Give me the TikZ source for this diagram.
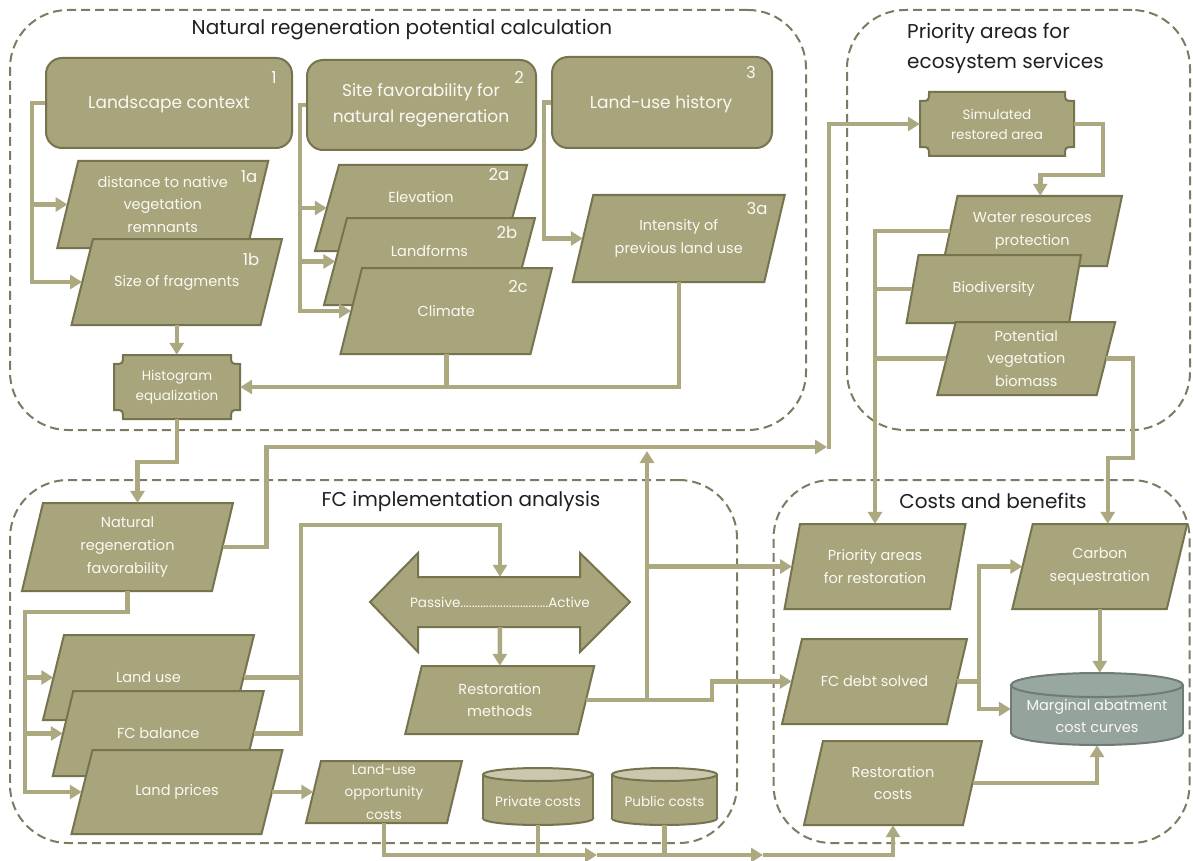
\documentclass[tikz,border=0pt]{standalone}
\usepackage{fontspec}
\setmainfont{Poppins}
\usetikzlibrary{arrows.meta,calc}
\definecolor{olive}{HTML}{A8A47B}
\definecolor{olivedark}{HTML}{76734F}
\definecolor{conncol}{HTML}{ACA980}
\definecolor{grpcol}{HTML}{7E7B62}
\definecolor{cyltopcol}{HTML}{C9C8AE}
\definecolor{macfill}{HTML}{94A39B}
\definecolor{macdark}{HTML}{6E7C74}
\definecolor{mactop}{HTML}{98A79F}
\definecolor{titlecol}{HTML}{231F20}
\definecolor{txtcol}{HTML}{FAFAF4}
\tikzset{
  shp/.style={fill=olive, draw=olivedark, line width=2, line join=miter},
  txt/.style={text=txtcol, inner sep=0, align=center, font=\fontsize{14.5}{22.5}\selectfont},
  bigtxt/.style={txt, font=\fontsize{17}{26}\selectfont},
  smalltxt/.style={txt, font=\fontsize{13.5}{22}\selectfont},
  num/.style={text=txtcol, inner sep=0, font=\fontsize{16.5}{20}\selectfont},
  rbox/.style={shp, rounded corners=16, inner sep=0},
  grp/.style={draw=grpcol, line width=2, dash pattern=on 9pt off 5pt, rounded corners=58, inner sep=0},
  ttl/.style={text=titlecol, inner sep=0, font=\fontsize{20}{30}\selectfont},
  conn/.style={draw=conncol, line width=4.5},
  arr/.style={conn, -{Triangle[length=12pt,width=14pt]}},
  cylb/.style={fill=olive, draw=olivedark, line width=2},
  cylt/.style={fill=cyltopcol, draw=olivedark, line width=2},
}
% parallelogram: name, cx, cy, w (edge length), h, slant, text
\newcommand\pgram[7]{%
  \filldraw[shp] (#2-#4/2+#6/2, #3-#5/2) -- (#2+#4/2+#6/2, #3-#5/2) -- (#2+#4/2-#6/2, #3+#5/2) -- (#2-#4/2-#6/2, #3+#5/2) -- cycle;
  \node[txt, minimum width=#4, minimum height=#5] (#1) at (#2,#3) {#7};
}
% plaque: name, x1, y1, x2, y2, text
\newcommand\plaque[6]{%
  \filldraw[shp] (#2+9,#3) -- (#4-9,#3) .. controls (#4-9,#3+9) .. (#4,#3+9) -- (#4,#5-9) .. controls (#4-9,#5-9) .. (#4-9,#5) -- (#2+9,#5) .. controls (#2+9,#5-9) .. (#2,#5-9) -- (#2,#3+9) .. controls (#2+9,#3+9) .. (#2+9,#3) -- cycle;
  \node[txt, font=\fontsize{13.5}{20}\selectfont, minimum width=#4-#2, minimum height=#5-#3] (#1) at ({(#2+#4)/2},{(#3+#5)/2}) {#6};
}
% cylinder: name, cx, ytop, ybot, w, text-y, text ; uses \cry
\newcommand\cyl[7]{%
  \filldraw[cylb] (#2,#4-\cry) ellipse [x radius=#5/2, y radius=\cry];
  \fill[cylb, draw=none] (#2-#5/2,#3+\cry) rectangle (#2+#5/2,#4-\cry);
  \draw[cylb, fill=none] (#2-#5/2,#3+\cry) -- (#2-#5/2,#4-\cry) (#2+#5/2,#3+\cry) -- (#2+#5/2,#4-\cry);
  \filldraw[cylt] (#2,#3+\cry) ellipse [x radius=#5/2, y radius=\cry];
  \node[inner sep=0, minimum width=#5, minimum height=#4-#3] (#1) at (#2,{(#3+#4)/2}) {};
  \node[smalltxt] (#1-t) at (#2,#6) {#7};
}
\begin{document}
\begin{tikzpicture}[x=1pt, y=-1pt]
\fill[white] (0,0) rectangle (1193,861);
\useasboundingbox (0,0) rectangle (1193,861);

% groups
\node[grp, minimum width=796, minimum height=420] (g1) at (408,220) {};
\node[grp, minimum width=343, minimum height=420] (g2) at (1018.5,220) {};
\node[grp, minimum width=727, minimum height=363] (g3) at (373.5,661.5) {};
\node[grp, minimum width=416, minimum height=363] (g4) at (981.5,661.5) {};
\node[ttl] (t1) at (402,30) {Natural regeneration potential calculation};
\node[ttl, align=left, anchor=west] (t2) at (907,48) {Priority areas for\\ecosystem services};
\node[ttl] (t3) at (461,501) {FC implementation analysis};
\node[ttl] (t4) at (993,501) {Costs and benefits};

% top rounded boxes
\node[rbox, minimum width=246, minimum height=90] (lc) at (169,103) {};
\node[bigtxt] (lc-t) at (169,104) {Landscape context};
\node[num] (n1) at (274,78) {1};
\node[rbox, minimum width=229, minimum height=90] (sf) at (421.5,105) {};
\node[bigtxt] (sf-t) at (421,105) {Site favorability for\\natural regeneration};
\node[num] (n2) at (519,77) {2};
\node[rbox, minimum width=220, minimum height=91] (luh) at (662,102.5) {};
\node[bigtxt] (luh-t) at (661,104) {Land-use history};
\node[num] (n3) at (751,72) {3};

% parallelograms top
\pgram{e1a}{162.75}{204.5}{190}{87}{21}{distance to native\\vegetation\\remnants}
\node[num] (n1a) at (249,177) {1a};
\pgram{e1b}{176.75}{282}{189}{86}{21.5}{}
\node[txt] (e1b-t) at (176.75,283) {Size of fragments};
\node[num] (n1b) at (251,259) {1b};
\pgram{e2a}{421}{208}{188}{86}{24}{Elevation\\[0pt]}
\node[num] (n2a) at (499,175) {2a};
\pgram{e2b}{429.5}{261.5}{188}{87}{23}{Landforms\\[-2pt]}
\node[num] (n2b) at (507,232) {2b};
\pgram{e2c}{446.25}{311}{190}{86}{21.5}{Climate}
\node[num] (n2c) at (518,287) {2c};
\pgram{e3a}{678.75}{238.5}{191.5}{87}{20.5}{Intensity of\\previous land use}
\node[num] (n3a) at (757,208) {3a};

\plaque{hist}{114}{355}{240}{419}{Histogram\\equalization}

% priority areas
\plaque{sim}{920}{92}{1074}{156}{Simulated\\restored area}
\pgram{wr}{1032.25}{231}{164.5}{70}{15}{Water resources\\protection}
\pgram{bio}{993.75}{289}{162.5}{68}{12}{Biodiversity}
\pgram{pvb}{1026.25}{358.5}{159.5}{73}{18.5}{Potential\\vegetation\\biomass}

% FC implementation
\pgram{nrf}{127.5}{547}{190}{88}{21}{Natural\\regeneration\\favorability}
\pgram{lu}{148.5}{677.5}{190}{85}{21}{Land use}
\pgram{fcb}{158.25}{733.5}{190.5}{85}{20.5}{FC balance}
\pgram{lp}{177}{792}{190}{84}{21}{Land prices}
\pgram{opp}{384}{792}{141}{62}{15}{\fontsize{13.5}{22}\selectfont Land-use\\\fontsize{13.5}{22}\selectfont opportunity\\\fontsize{13.5}{22}\selectfont costs}
\filldraw[shp] (370,602) -- (418,553) -- (418,577) -- (580,577) -- (580,553) -- (630,602) -- (580,652) -- (580,627) -- (418,627) -- (418,652) -- cycle;
\node[txt, font=\fontsize{13.5}{20}\selectfont, minimum width=260, minimum height=50] (darr) at (500,602) {Passive...............................Active};
\pgram{rm}{499.75}{700}{172.5}{68}{16.5}{Restoration\\methods}
\def\cry{6.5}
\cyl{priv}{538}{768}{825}{110}{801}{Private costs}
\cyl{pub}{664.5}{768}{825}{105}{801}{Public costs}

% costs and benefits
\pgram{pr}{875}{566.5}{165.5}{85}{15.5}{Priority areas\\for restoration}
\pgram{fcd}{874.5}{681.5}{165}{85}{20}{FC debt solved}
\pgram{cs}{1099.75}{566.5}{154.5}{85}{20.5}{Carbon\\sequestration}
\pgram{rc}{893}{783}{159}{84}{19}{Restoration\\costs}
\begin{scope}[cylb/.style={fill=macfill, draw=macdark, line width=2}, cylt/.style={fill=mactop, draw=macdark, line width=2}, smalltxt/.style={txt, font=\fontsize{14.5}{22}\selectfont}]
\def\cry{12}
\cyl{mac}{1097}{673}{745}{172}{716}{Marginal abatment\\cost curves}
\end{scope}

% connectors: natural regeneration
\draw[arr] (lc.west) -- ++(-13,0) |- (e1a.west);
\draw[arr] (lc.west) -- ++(-13,0) |- (e1b.west);
\draw[arr] (sf.west) -- ++(-6,0) |- (e2a.west);
\draw[arr] (sf.west) -- ++(-6,0) |- (e2b.west);
\draw[arr] (sf.west) -- ++(-6,0) |- (e2c.west);
\draw[arr] (luh.west) -- ++(-7,0) |- (e3a.west);
\draw[arr] (e1b.south) -- (e1b.south |- hist.north);
\draw[arr] (e3a.south) |- (hist.east);
\draw[conn] (e2c.south) -- (e2c.south |- hist.east);
\draw[arr] (hist.south) -- ++(0,43) -| ([xshift=10]nrf.north);

% connectors: long links
\coordinate (jA) at (829,447);
\draw[arr] (nrf.east) -- ++(44,0) |- ([xshift=-2]jA);
\draw[arr] ([yshift=-2.25]jA) |- (sim.west);
\coordinate (jH) at (1103,175);
\draw[arr] (sim.east) -| (jH) -| ([xshift=8]wr.north);
\draw[arr] (wr.west) -| (pr.north);
\draw[conn] (bio.west) -- (bio.west -| pr.north);
\draw[conn] (pvb.west) -- (pvb.west -| pr.north);
\coordinate (jG) at (1133,458);
\draw[arr] (pvb.east) -| (jG) -| ([xshift=8]cs.north);

% FC implementation connectors
\coordinate (jC) at (25,612);
\draw[conn] (nrf.south) |- ([xshift=-2.25]jC);
\draw[arr] (jC) |- (lu.west);
\draw[arr] (jC) |- (fcb.west);
\draw[arr] (jC) |- (lp.west);
\coordinate (jD) at (301,525);
\draw[arr] (lu.east) -| (jD) -| (darr.north);
\draw[conn] (fcb.east) -| (jD);
\draw[arr] (darr.south) -- (rm.north);
\draw[arr] (lp.east) -- (opp.west);
\coordinate (jB) at (647,451);
\draw[arr] (rm.east) -| (jB);
\draw[arr] (rm.east -| jB) |- (pr.west);
\draw[arr] (rm.east) -- ++(126,0) |- (fcd.west);

% bottom line
\coordinate (jE) at (597,855);
\coordinate (jF) at (763,855);
\draw[arr] (opp.south) |- (jE);
\draw[arr] (jE) -- (jF);
\draw[arr] (jF) -| (rc.south);
\draw[conn] (priv.south) -- (priv.south |- jE);
\draw[conn] (pub.south) -- (pub.south |- jE);

% costs and benefits connectors
\draw[arr] (fcd.east) -- ++(22,0) |- (cs.west);
\draw[arr] (fcd.east) -- ++(22,0) |- (mac.west);
\draw[arr] (cs.south) -- (cs.south |- mac.north);
\draw[arr] (rc.east) -| (mac.south);
\end{tikzpicture}
\end{document}
